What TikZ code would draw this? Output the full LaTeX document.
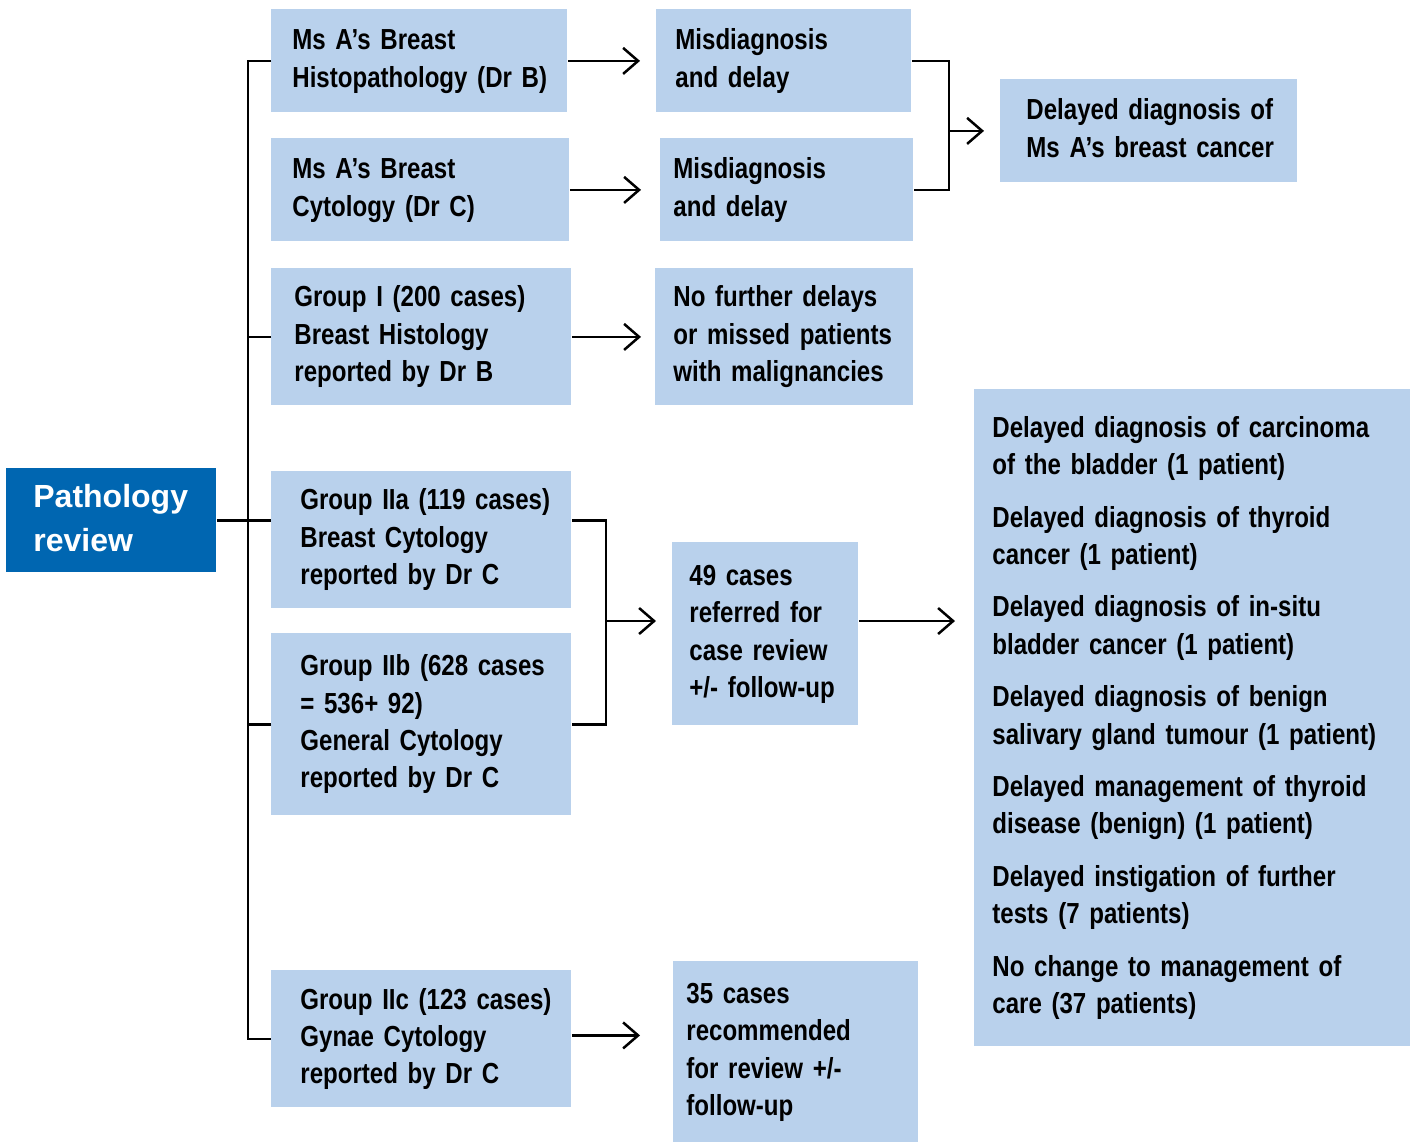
\documentclass[tikz,border=0pt]{standalone}
\usepackage{fontspec}
\setmainfont{Liberation Sans}
\newfontfamily\condfont[FakeStretch=0.83]{Liberation Sans}
\usetikzlibrary{arrows.meta}
\definecolor{boxblue}{HTML}{B9D1EC}
\definecolor{pathblue}{HTML}{0066B1}
\newcommand{\lns}[1]{\begin{tabular}{@{}l@{}}#1\end{tabular}}
\tikzset{
  pbox/.style n args={3}{fill=boxblue, anchor=north west, inner sep=0pt, align=left,
    minimum width=#1, minimum height=#2, text width=#3,
    font=\condfont\bfseries\fontsize{14.5}{18.7}\selectfont},
  link/.style={line width=1.25pt},
  arr/.style={link, -{Straight Barb[length=7.5pt,width=13pt]}, shorten >=8pt}
}

\begin{document}
\begin{tikzpicture}[x=0.5pt, y=-0.5pt]
    \useasboundingbox (0,0) rectangle (1416,1142);
    % left column
    \node[pbox={105pt}{52pt}{78pt}, fill=pathblue, text=white,
          font=\bfseries\fontsize{16}{22}\selectfont] (path) at (6,468) {\lns{\rule{0pt}{14pt}Pathology\\review}};
    \node[pbox={148pt}{51.5pt}{127pt}] (ms1) at (271,9) {\lns{Ms A’s Breast\\Histopathology (Dr B)}};
    \node[pbox={149pt}{51.5pt}{128pt}] (ms2) at (271,138) {\lns{Ms A’s Breast\\Cytology (Dr C)}};
    \node[pbox={150pt}{68.5pt}{127pt}] (g1) at (271,268) {\lns{Group I (200 cases)\\Breast Histology\\reported by Dr B}};
    \node[pbox={150pt}{68.5pt}{121pt}] (g2a) at (271,471) {\lns{Group IIa (119 cases)\\Breast Cytology\\reported by Dr C}};
    \node[pbox={150pt}{91pt}{121pt}] (g2b) at (271,633) {\lns{Group IIb (628 cases\\= 536+ 92)\\General Cytology\\reported by Dr C}};
    \node[pbox={150pt}{68.5pt}{121pt}] (g2c) at (271,970) {\lns{Group IIc (123 cases)\\Gynae Cytology\\reported by Dr C}};
    % middle column
    \node[pbox={127.5pt}{51.5pt}{108.5pt}] (mis1) at (656,9) {\lns{Misdiagnosis\\and delay}};
    \node[pbox={126.5pt}{51.5pt}{113.5pt}] (mis2) at (660,138) {\lns{Misdiagnosis\\and delay}};
    \node[pbox={129pt}{68.5pt}{111pt}] (nof) at (655,268) {\lns{No further delays\\or missed patients\\with malignancies}};
    \node[pbox={93pt}{91.5pt}{76pt}] (n49) at (672,542) {\lns{49 cases\\referred for\\case review\\+/- follow-up}};
    \node[pbox={122.5pt}{90.5pt}{109.5pt}] (n35) at (673,961) {\lns{35 cases\\recommended\\for review +/-\\follow-up}};
    % right column
    \node[pbox={148.5pt}{51.5pt}{122.5pt}] (dms) at (1000,79) {\lns{Delayed diagnosis of\\Ms A’s breast cancer}};
    \node[pbox={218pt}{328.5pt}{200pt}] (list) at (974,389) {\lns{Delayed diagnosis of carcinoma\\of the bladder (1 patient)\\[7.5pt]
        Delayed diagnosis of thyroid\\cancer (1 patient)\\[7.5pt]
        Delayed diagnosis of in-situ\\bladder cancer (1 patient)\\[7.5pt]
        Delayed diagnosis of benign\\salivary gland tumour (1 patient)\\[7.5pt]
        Delayed management of thyroid\\disease (benign) (1 patient)\\[7.5pt]
        Delayed instigation of further\\tests (7 patients)\\[7.5pt]
        No change to management of\\care (37 patients)}};
    % trunk and branches
    \coordinate (tr) at (248,0);
    \draw[link] (ms1.west) -- (ms1.west -| tr) -- (g2c.west -| tr) -- (g2c.west);
    \foreach \b in {g1,g2b} \draw[link] (\b.west) -- (\b.west -| tr);
    \draw[link] (path.east) -- (path.east -| g2a.west);
    % brackets
    \coordinate (br1) at (949,0);
    \draw[link] (mis1.east) -| (br1 |- mis2.east) -- (mis2.east);
    \draw[arr] (br1 |- dms.west) -- (dms.west);
    \coordinate (br2) at (606,621);
    \draw[link] (path.east -| g2a.east) -| (br2 |- g2b.east) -- (g2b.east);
    \draw[arr] (br2) -- (br2 -| n49.west);
    \draw[arr, shorten >=9.5pt] (br2 -| n49.east) -- (br2 -| list.west);
    % arrows
    \draw[arr] (ms1.east) -- (mis1.west);
    \draw[arr, shorten >=9.5pt] (ms2.east) -- (ms2.east -| mis2.west);
    \draw[arr, shorten >=7pt] (g1.east) -- (g1.east -| nof.west);
    \draw[arr, shorten >=16.5pt] ([yshift=1.75pt]g2c.east) -- ([yshift=1.75pt]g2c.east -| n35.west);
\end{tikzpicture}
\end{document}
